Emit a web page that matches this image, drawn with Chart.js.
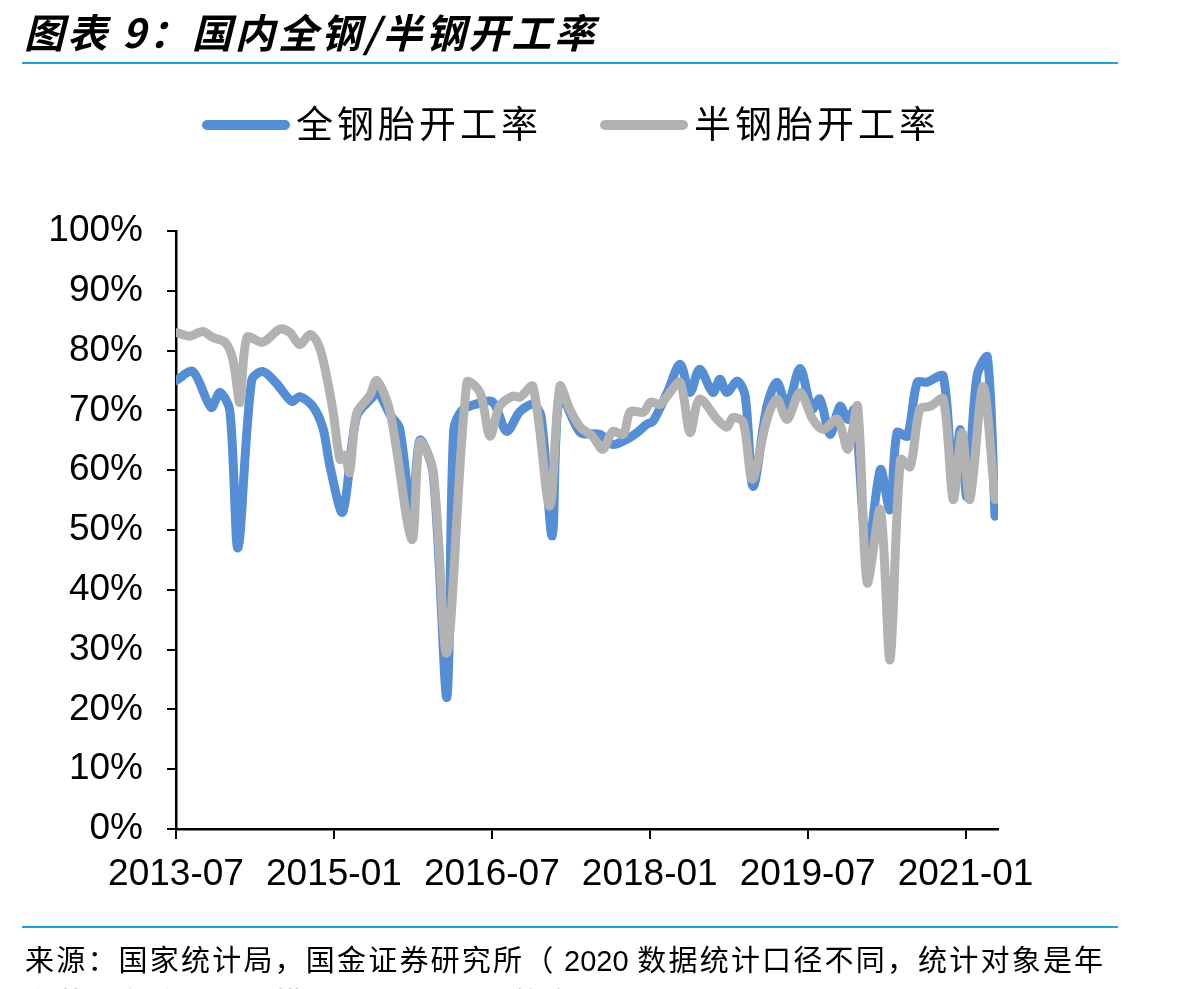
<!DOCTYPE html>
<html>
<head>
<meta charset="utf-8">
<script src="https://cdn.jsdelivr.net/npm/chart.js@4/dist/chart.umd.min.js"></script>
<style>
  html, body { margin: 0; padding: 0; background: #fff; }
  body { width: 1203px; height: 989px; position: relative; overflow: hidden; }
  #chart { position: absolute; left: 0; top: 0; }
  .title {
    position: absolute; left: 24px; top: 2px;
    font: italic bold 40px "Noto Sans CJK SC", sans-serif; color: #000; letter-spacing: 3px;
  }
  .rule { position: absolute; left: 22px; width: 1096px; height: 2px; background: #1E9FDE; }
  .legend { position: absolute; top: 99px; left: 202px; height: 46px; font: 37px "Noto Sans CJK SC", sans-serif; }
  .legend span.item { position: absolute; top: 0; white-space: nowrap; letter-spacing: 4px; line-height: 46px; }
  .legend i { display: inline-block; width: 88px; height: 10px; border-radius: 5px; vertical-align: middle; margin-right: 6px; position: relative; top: -3px; }
  .source {
    position: absolute; left: 25px; top: 938px; width: 1160px; white-space: nowrap;
    font: 29px "Noto Sans CJK SC", sans-serif; color: #000; line-height: 40px; letter-spacing: 2.2px;
  }
  .source .num { font-family: "Liberation Sans", Arial, sans-serif; letter-spacing: 0; }
</style>
</head>
<body>
<canvas id="chart" width="1203" height="989"></canvas>
<div class="title">图表 9：国内全钢/半钢开工率</div>
<div class="rule" style="top:62px"></div>
<div class="legend">
  <span class="item" style="left:0"><i style="background:#558ED5"></i>全钢胎开工率</span>
  <span class="item" style="left:398px"><i style="background:#B2B2B2"></i>半钢胎开工率</span>
</div>
<div class="rule" style="top:926px"></div>
<div class="source">来源：国家统计局，国金证券研究所（ <span class="num">2020</span> 数据统计口径不同，统计对象是年<br>主营业务收入，规模 <span class="num">2000</span> 万元以上的企业）</div>
<script>
// 全钢胎开工率 (%)
const fullDates = [
  '2013-07-01','2013-08-29','2013-11-01','2013-12-01','2014-01-05','2014-02-03','2014-03-20','2014-04-28',
  '2014-06-15','2014-08-07','2014-09-04','2014-10-19','2014-11-24','2014-12-18','2015-02-01','2015-03-19',
  '2015-05-16','2015-05-28','2015-07-13','2015-08-16','2015-09-28','2015-10-25','2015-12-10','2016-01-28',
  '2016-02-21','2016-03-19','2016-05-04','2016-07-04','2016-08-22','2016-10-07','2016-11-22','2016-12-20',
  '2017-01-28','2017-02-24','2017-05-04','2017-07-10','2017-08-25','2017-10-13','2017-11-18','2017-12-22',
  '2018-01-13','2018-03-01','2018-04-15','2018-05-19','2018-06-22','2018-08-07','2018-09-01','2018-09-25',
  '2018-11-01','2018-11-28','2018-12-25','2019-02-12','2019-03-16','2019-04-21','2019-06-05','2019-07-16',
  '2019-08-13','2019-09-18','2019-10-22','2019-11-19','2019-12-13','2020-01-25','2020-03-10','2020-04-13',
  '2020-05-07','2020-06-12','2020-07-16','2020-08-19','2020-10-15','2020-11-19','2020-12-13','2021-01-06',
  '2021-02-10','2021-03-16','2021-04-12'
];
const fullRate = [
  75, 76.5, 70.5, 73, 70, 47, 75, 76.5,
  74.5, 71.5, 72.3, 70.7, 67, 60.6, 53, 69,
  72.4, 73.5, 69.3, 67, 52, 65, 59.6, 22,
  66.8, 70, 71, 71.4, 66.5, 69.8, 71, 69,
  49, 72.7, 66.3, 66, 64.3, 65.2, 66.3, 67.7,
  68.2, 73, 77.7, 73, 76.9, 73, 75.2, 73,
  74.9, 72.4, 57.3, 70.7, 74.7, 70.7, 77, 70.2,
  71.9, 66, 70.7, 68.5, 70.2, 45.6, 60.1, 53.4,
  66.3, 65.7, 74.7, 74.7, 75.7, 55.6, 66.8, 55.6,
  75.7, 78.9, 52.3
];

// 半钢胎开工率 (%)
const semiDates = [
  '2013-07-04','2013-08-18','2013-10-03','2013-11-07','2013-12-19','2014-01-16','2014-02-10','2014-03-04',
  '2014-04-28','2014-06-27','2014-08-01','2014-09-04','2014-10-09','2014-11-03','2014-11-24','2014-12-28',
  '2015-01-22','2015-02-09','2015-02-25','2015-03-19','2015-05-04','2015-05-28','2015-07-13','2015-09-28',
  '2015-10-25','2015-12-10','2016-01-28','2016-04-06','2016-05-21','2016-06-25','2016-07-28','2016-09-13',
  '2016-10-07','2016-11-22','2017-01-19','2017-02-24','2017-03-28','2017-05-04','2017-06-15','2017-07-21',
  '2017-08-25','2017-10-01','2017-10-25','2017-12-10','2018-01-04','2018-02-06','2018-03-01','2018-04-15',
  '2018-05-19','2018-06-22','2018-08-22','2018-09-25','2018-10-16','2018-11-21','2018-12-22','2019-02-12',
  '2019-03-16','2019-04-21','2019-06-05','2019-07-19','2019-08-25','2019-10-13','2019-11-19','2019-12-22',
  '2020-01-25','2020-03-10','2020-04-13','2020-05-19','2020-06-22','2020-07-25','2020-09-01','2020-10-15',
  '2020-11-19','2020-12-19','2021-01-16','2021-03-01','2021-04-12'
];
const semiRate = [
  83, 82.4, 83.2, 82.2, 81.4, 78.5, 71.3, 82.2,
  81.4, 83.6, 83, 81, 82.7, 81.5, 78.5, 70,
  61.8, 62.5, 59.6, 69.5, 72.5, 75, 69.8, 48.4,
  64.7, 60, 29.5, 74.7, 73, 65.7, 70.7, 72.4,
  72.2, 74, 54, 74, 70.2, 67.2, 65.7, 63.5,
  66.5, 66, 69.8, 69.7, 71.4, 71, 72.4, 74.7,
  66.3, 71.9, 68.5, 67.2, 68.8, 68, 58.5, 68.5,
  71.9, 68.5, 73, 68.5, 66.8, 68.5, 63.5, 70.7,
  41.2, 53.4, 28.3, 61.8, 60.6, 70.2, 70.7, 71.9,
  55.1, 66.3, 55.1, 74, 55.1
];

const tickMonths = [0, 18, 36, 54, 72, 90];
const tickLabels = ['2013-07', '2015-01', '2016-07', '2018-01', '2019-07', '2021-01'];

// months since 2013-07
function toMonths(s) {
  const [y, m, d] = s.split('-').map(Number);
  return (y - 2013) * 12 + (m - 7) + (d - 1) / 30.5;
}
function pts(dates, vals) {
  return dates.map((d, i) => ({ x: toMonths(d), y: vals[i] }));
}

const axisFont = { family: '"Liberation Sans", Arial, sans-serif', size: 37 };

new Chart(document.getElementById('chart'), {
  type: 'line',
  data: {
    datasets: [
      {
        label: '全钢胎开工率',
        data: pts(fullDates, fullRate),
        borderColor: '#558ED5',
        borderWidth: 9,
        order: 1
      },
      {
        label: '半钢胎开工率',
        data: pts(semiDates, semiRate),
        borderColor: '#B2B2B2',
        borderWidth: 9,
        order: 0
      }
    ]
  },
  options: {
    responsive: false,
    animation: false,
    elements: {
      point: { radius: 0 },
      line: { tension: 0.3, borderCapStyle: 'round', borderJoinStyle: 'round', fill: false }
    },
    layout: { padding: { left: 0, top: 231, right: 205, bottom: 90 } },
    plugins: { legend: { display: false }, tooltip: { enabled: false } },
    scales: {
      x: {
        type: 'linear',
        min: 0,
        max: 93.7,
        afterBuildTicks: s => { s.ticks = tickMonths.map(v => ({ value: v })); },
        afterFit: s => { s.height = 70; },
        ticks: {
          autoSkip: false,
          maxRotation: 0,
          padding: 14,
          color: '#000',
          font: axisFont,
          callback: (v, i) => tickLabels[i]
        },
        grid: { drawOnChartArea: false, color: '#000', lineWidth: 2, tickLength: 10 },
        border: { color: '#000', width: 2.5 }
      },
      y: {
        min: 0,
        max: 100,
        afterFit: s => { s.width = 176; },
        ticks: {
          stepSize: 10,
          padding: 24,
          color: '#000',
          font: axisFont,
          callback: v => v + '%'
        },
        grid: { drawOnChartArea: false, color: '#000', lineWidth: 2, tickLength: 9 },
        border: { color: '#000', width: 2.5 }
      }
    }
  }
});
</script>
</body>
</html>
